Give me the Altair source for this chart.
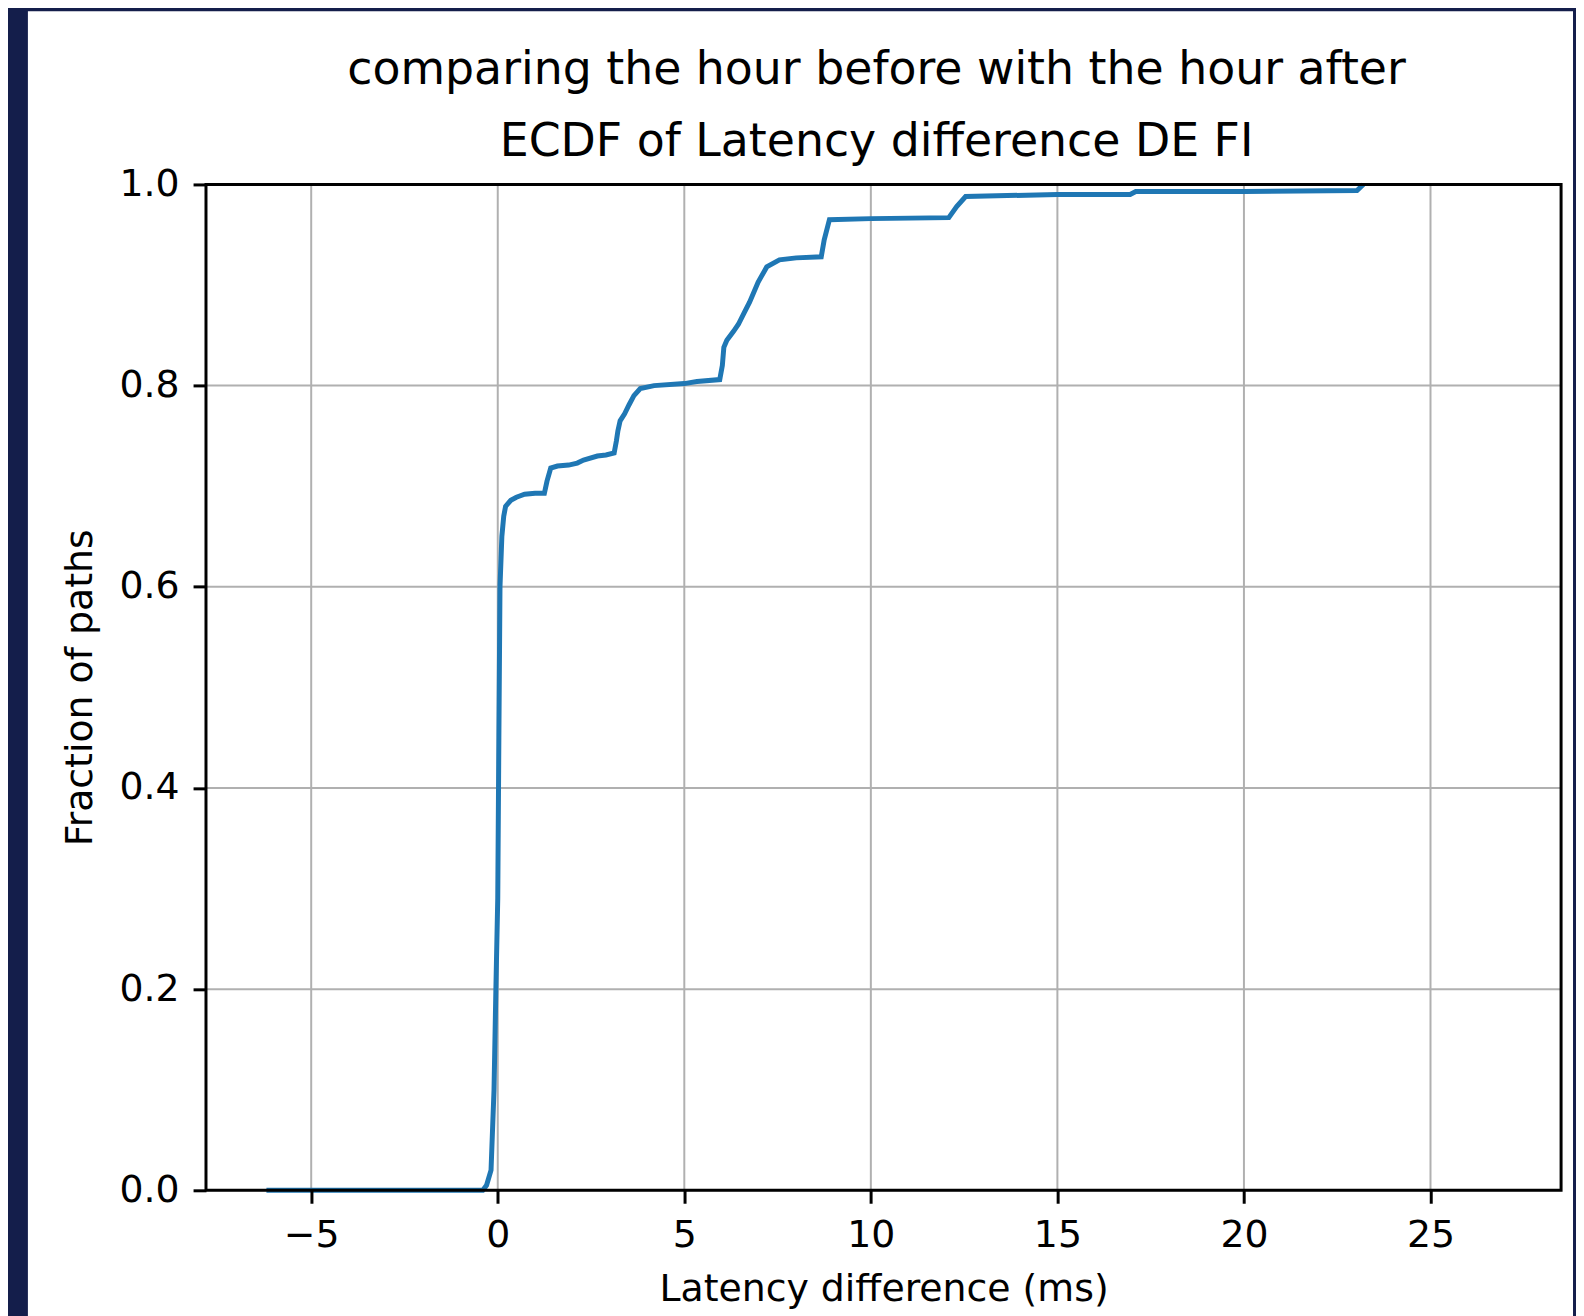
import altair as alt
import pandas as pd

# ECDF
latency_diff = [-6.2, -0.4, -0.3, -0.18, -0.1, -0.05, 0.0, 0.03, 0.06, 0.11, 0.16, 0.21,
                0.35, 0.5, 0.72, 1.0, 1.25, 1.32, 1.42, 1.6, 1.9, 2.13, 2.3, 2.67, 2.9,
                3.12, 3.18, 3.22, 3.28, 3.4, 3.52, 3.65, 3.82, 4.19, 5.0, 5.34, 5.95,
                6.02, 6.06, 6.14, 6.32, 6.45, 6.6, 6.75, 6.98, 7.21, 7.55, 8.0, 8.67,
                8.75, 8.89, 10.0, 12.09, 12.3, 12.54, 15.0, 16.95, 17.1, 20.0, 23.03, 23.2]
fraction = [0.0, 0.0, 0.005, 0.02, 0.1, 0.2, 0.29, 0.45, 0.6, 0.65, 0.67, 0.68,
            0.686, 0.689, 0.692, 0.693, 0.693, 0.705, 0.718, 0.72, 0.721, 0.723, 0.726, 0.73, 0.731,
            0.733, 0.745, 0.755, 0.765, 0.772, 0.781, 0.79, 0.797, 0.80, 0.802, 0.804, 0.806,
            0.82, 0.838, 0.845, 0.854, 0.861, 0.872, 0.883, 0.903, 0.918, 0.925, 0.927, 0.928,
            0.945, 0.965, 0.966, 0.967, 0.978, 0.988, 0.990, 0.990, 0.993, 0.993, 0.994, 1.0]

x_ticks = [-5, 0, 5, 10, 15, 20, 25]
y_ticks = [0.0, 0.2, 0.4, 0.6, 0.8, 1.0]
x_domain = [-7.82, 28.5]
y_domain = [0.0, 1.0]

title_lines = ["comparing the hour before with the hour after",
               "ECDF of Latency difference DE FI"]
x_title = "Latency difference (ms)"
y_title = "Fraction of paths"

W, H = 1362, 1011
NAVY = "#141e4b"
FONT = "DejaVu Sans"

df = pd.DataFrame({"x": latency_diff, "y": fraction})
xs = alt.Scale(domain=x_domain, nice=False, zero=False)
ys = alt.Scale(domain=y_domain, nice=False, zero=False)

x_axis = alt.Axis(values=x_ticks, format="d", title=x_title, grid=False,
                  domain=False, zindex=1, titlePadding=17, labelPadding=13)
y_axis = alt.Axis(values=y_ticks, format=".1f", title=y_title, grid=False,
                  domain=False, zindex=1, titlePadding=20, labelPadding=14)

# white card behind the figure (decoration)
card = alt.Chart(alt.Data(values=[{}])).mark_rect(color="white").encode(
    x=alt.value(-179), x2=alt.value(1374), y=alt.value(-174), y2=alt.value(1145)
)

xgrid = alt.Chart(pd.DataFrame({"x": x_ticks})).mark_rule(
    color="#b0b0b0", strokeWidth=2
).encode(x=alt.X("x:Q", scale=xs, axis=x_axis), y=alt.value(0), y2=alt.value(H))

ygrid = alt.Chart(pd.DataFrame({"y": y_ticks})).mark_rule(
    color="#b0b0b0", strokeWidth=2
).encode(y=alt.Y("y:Q", scale=ys, axis=y_axis), x=alt.value(0), x2=alt.value(W))

line = alt.Chart(df).mark_line(color="#1f77b4", strokeWidth=5).encode(
    x=alt.X("x:Q", scale=xs, axis=x_axis),
    y=alt.Y("y:Q", scale=ys, axis=y_axis),
)

frame = alt.Chart(alt.Data(values=[{}])).mark_rect(
    filled=False, stroke="black", strokeWidth=3
).encode(x=alt.value(0), x2=alt.value(W), y=alt.value(0), y2=alt.value(H))

chart = alt.layer(card, xgrid, ygrid, line, frame).properties(
    width=W, height=H,
    title=alt.TitleParams(text=title_lines, fontSize=46, font=FONT, fontWeight="normal",
                          color="black", anchor="middle", frame="group", lineHeight=72,
                          offset=-201, dx=-7, baseline="bottom", zindex=1),
    autosize=alt.AutoSizeParams(type="none"),
    padding={"left": 199, "top": 174, "right": 15, "bottom": 123},
    background=NAVY,
).configure_view(stroke=None).configure_axis(
    labelFont=FONT, labelFontSize=38, labelColor="black",
    titleFont=FONT, titleFontSize=38, titleFontWeight="normal", titleColor="black",
    tickColor="black", tickWidth=3, tickSize=13,
)

chart.save("out.html", embed_options={"renderer": "svg", "actions": False})
